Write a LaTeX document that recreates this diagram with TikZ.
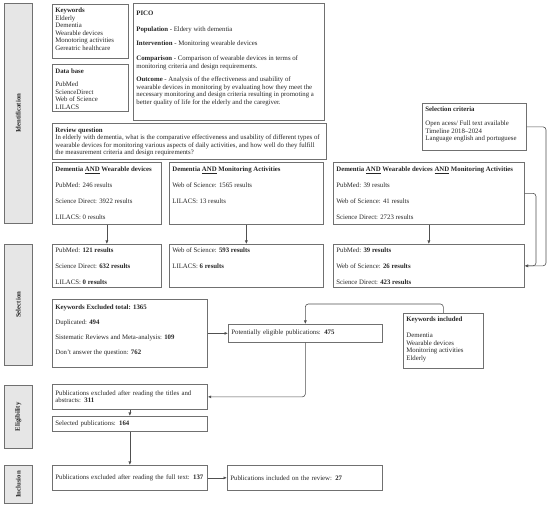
\documentclass[tikz,border=0pt]{standalone}
\usepackage{fontspec}
\setmainfont{Liberation Serif}
\usetikzlibrary{arrows.meta}
\definecolor{boxc}{HTML}{707070}
\definecolor{linec}{HTML}{505050}
\definecolor{barfill}{HTML}{E6E6E6}
\definecolor{txt}{HTML}{262626}
\newcommand\bx[4][3pt]{\parbox[c][#3][t]{#2}{\vspace*{#1}\strut #4}}
\tikzset{
  box/.style={draw=boxc, line width=0.7pt, inner xsep=3pt, inner ysep=0pt, anchor=north west, text=txt},
  sbox/.style={draw=boxc, line width=0.7pt, inner xsep=3pt, inner ysep=0pt, anchor=north west, text=txt, align=left, minimum height=#1},
  phase/.style={draw=boxc, fill=barfill, line width=0.7pt, anchor=north west, inner sep=0pt, minimum width=28pt, text=txt},
  conn/.style={draw=linec, line width=0.6pt, -{Latex[length=3.5pt,width=3pt]}},
}
\begin{document}
\begin{tikzpicture}[x=1pt,y=-1pt, every node/.style={font=\fontsize{6.8}{7.6}\selectfont}]
\useasboundingbox (0,0) rectangle (550,516);

% phase bars
\node[phase, minimum height=220pt] (pid) at (4,3) {\rotatebox{90}{\bfseries Identification}};
\node[phase, minimum height=121pt] (psel) at (4,244) {\rotatebox{90}{\bfseries Selection}};
\node[phase, minimum height=63pt] (pel) at (4,385) {\rotatebox{90}{\bfseries Eligibility}};
\node[phase, minimum height=38pt] (pinc) at (4,465) {\rotatebox{90}{\bfseries Inclusion}};

% identification
\node[box] (kw) at (52,4) {\bx[2.75pt]{70pt}{54pt}{\textbf{Keywords}\\Elderly\\Dementia\\Wearable devices\\Monotoring activities\\Gereatric healthcare}};
\node[box] (db) at (52,64) {\bx[4.25pt]{70pt}{47pt}{\textbf{Data base}\\[5pt]PubMed\\ScienceDirect\\Web of Science\\LILACS}};
\node[box] (pico) at (133,3) {\bx[7pt]{185pt}{117pt}{\textbf{PICO}\\[8.4pt]\textbf{Population} - Eldery with dementia\\[6.4pt]\textbf{Intervention} - Monitoring wearable devices\\[7.4pt]\textbf{Comparison} - Comparison of wearable devices in terms of\\monitoring criteria and design requirements.\\[5.9pt]\textbf{Outcome} - Analysis of the effectiveness and usability of\\wearable devices in monitoring by evaluating how they meet the\\necessary monitoring and design criteria resulting in promoting a\\better quality of life for the elderly and the caregiver.}};
\node[box] (rq) at (52,123) {\bx[3.5pt]{268pt}{36pt}{\textbf{Review question}\\\mbox{In elderly with dementia, what is the comparative effectiveness and usability of different types of}\\wearable devices for monitoring various aspects of daily activities, and how well do they fulfill\\the measurement criteria and design requirements?}};
\node[box] (sc) at (422,103) {\bx[2.75pt]{98pt}{47pt}{\textbf{Selection criteria}\\[6.4pt]Open acess/ Full text available\\Timeline 2018--2024\\Language english and portuguese}};

\node[box] (a1) at (52,162) {\bx[3.75pt]{103pt}{62pt}{\textbf{Dementia \underline{AND} Wearable devices}\\[8.4pt]PubMed: 246 results\\[8.4pt]Science Direct: 3922 results\\[8.4pt]LILACS: 0 results}};
\node[box] (a2) at (169,162) {\bx[3.75pt]{148pt}{62pt}{\textbf{Dementia \underline{AND} Monitoring Activities}\\[8.4pt]Web of Science: 1565 results\\[8.4pt]LILACS: 13 results}};
\node[box] (a3) at (333,162) {\bx[3.75pt]{185pt}{62pt}{\textbf{Dementia \underline{AND} Wearable devices \underline{AND} Monitoring Activities}\\[8.4pt]PubMed: 39 results\\[8.4pt]Web of Science: 41 results\\[8.4pt]Science Direct: 2723 results}};

% selection
\node[box] (b1) at (52,244) {\bx[2.75pt]{103pt}{43pt}{PubMed: \textbf{121 results}\\[8.4pt]Science Direct: \textbf{632 results}\\[8.4pt]LILACS: \textbf{0 results}}};
\node[box] (b2) at (169,244) {\bx[2.75pt]{148pt}{43pt}{Web of Science: \textbf{593 results}\\[8.4pt]LILACS: \textbf{6 results}}};
\node[box] (b3) at (333,244) {\bx[2.75pt]{185pt}{43pt}{PubMed: \textbf{39 results}\\[8.4pt]Web of Science: \textbf{26 results}\\[8.4pt]Science Direct: \textbf{423 results}}};

\node[box] (ex) at (52,299) {\bx[4.75pt]{149pt}{68pt}{\textbf{Keywords Excluded total: 1365}\\[7.4pt]Duplicated: \textbf{494}\\[7.4pt]Sistematic Reviews and Meta-analysis: \textbf{109}\\[7.4pt]Don't answer the question: \textbf{762}}};
\node[sbox=18pt, text width=148pt] (pe) at (228,324) {\mbox{Potentially eligible publications: \textbf{475}}};
\node[box] (ki) at (403,313) {\bx[2.75pt]{74pt}{55pt}{\textbf{Keywords included}\\[8.4pt]Dementia\\Wearable devices\\Monitoring activities\\Elderly}};

% eligibility / inclusion
\node[sbox=25pt, text width=149pt] (ext) at (52,384) {\mbox{Publications excluded after reading the titles and}\\abstracts: \textbf{311}};
\node[sbox=15pt, text width=149pt] (sel) at (52,416) {\mbox{Selected publications: \textbf{164}}};
\node[sbox=25pt, text width=149pt] (exf) at (52,465) {\mbox{Publications excluded after reading the full text: \textbf{137}}};
\node[sbox=25pt, text width=149pt] (inc) at (227,465) {\mbox{Publications included on the review: \textbf{27}}};

% connectors
\coordinate (r1) at (546,0);
\coordinate (r2) at (536,0);
\coordinate (k1) at (0,304);
\draw[conn] (a1.south) -- (b1.north);
\draw[conn] (a2.south) -- (b2.north);
\draw[conn] (a3.south) -- (b3.north);
\draw[conn, rounded corners=3pt] (sc.east) -| (r1 |- b3.east) -- (b3.east);
\draw[conn, rounded corners=3pt] (a3.east) -| (r2 |- b3.east) -- (b3.east);
\draw[conn] (ex.east) -- (pe.west);
\draw[conn, rounded corners=3pt] (ki.north) |- (k1 -| pe.north) -- (pe.north);
\draw[conn, rounded corners=3pt] (pe.south) |- (ext.east);
\draw[conn] (ext.south) -- (sel.north);
\draw[conn] (sel.south) -- (exf.north);
\draw[conn] (exf.east) -- (inc.west);
\end{tikzpicture}
\end{document}
